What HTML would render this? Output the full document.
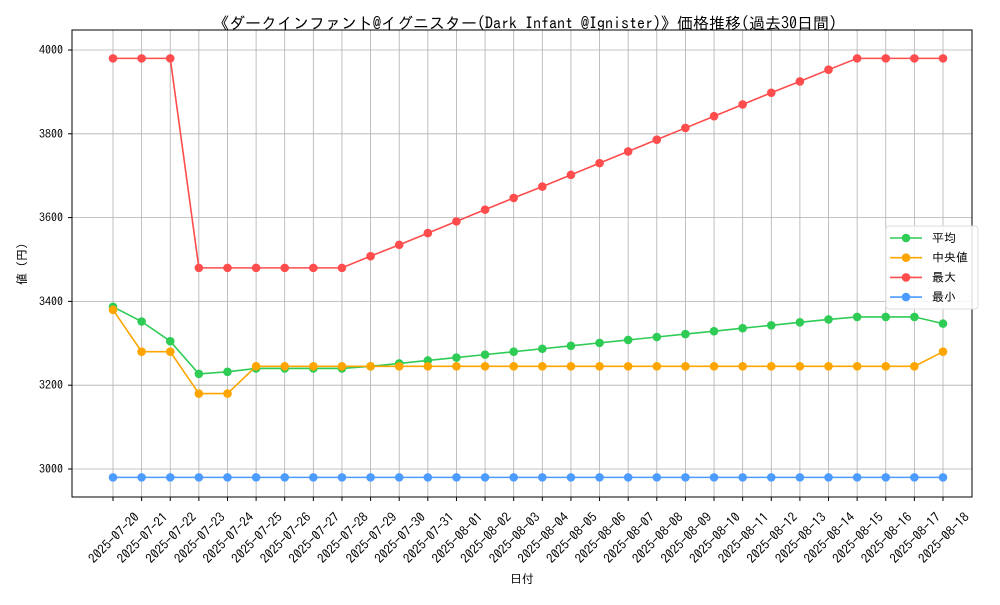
<!DOCTYPE html>
<html><head><meta charset="utf-8">
<style>
html,body{margin:0;padding:0;background:#fff;}
svg text{font-family:"IPAGothic","Liberation Sans","Noto Sans CJK JP",sans-serif;}
</style></head>
<body>
<svg id="chart" width="1000" height="600" viewBox="0 0 1000 600" xmlns="http://www.w3.org/2000/svg">
<rect width="1000" height="600" fill="#fff"/>
<text x="525" y="29" font-size="16" text-anchor="middle">《ダークインファント@イグニスター(Dark Infant @Ignister)》価格推移(過去30日間)</text>
<g id="grid"></g>
<g id="series"></g>
<rect x="72" y="30" width="900" height="467" fill="none" stroke="#000" stroke-width="1"/>
<g id="ticks"></g>
<text x="522" y="583" font-size="12" text-anchor="middle">日付</text>
<text x="0" y="0" font-size="12" text-anchor="middle" transform="translate(26,264) rotate(-90)">値 (円)</text>
<g>
<rect x="886" y="226" width="92" height="83" rx="3" fill="#fff" fill-opacity="0.85" stroke="#ddd"/>
<g id="legend-items"></g>
</g>
</svg>
<script>
const dates = ["2025-07-20","2025-07-21","2025-07-22","2025-07-23","2025-07-24","2025-07-25","2025-07-26","2025-07-27","2025-07-28","2025-07-29","2025-07-30","2025-07-31","2025-08-01","2025-08-02","2025-08-03","2025-08-04","2025-08-05","2025-08-06","2025-08-07","2025-08-08","2025-08-09","2025-08-10","2025-08-11","2025-08-12","2025-08-13","2025-08-14","2025-08-15","2025-08-16","2025-08-17","2025-08-18"];
const avgValues = [3387,3352,3305,3227,3232,3240,3240,3240,3240,3245,3252,3259,3266,3273,3280,3287,3294,3301,3308,3315,3322,3329,3336,3343,3350,3357,3363,3363,3363,3347];
const medianValues = [3380,3280,3280,3180,3180,3245,3245,3245,3245,3245,3245,3245,3245,3245,3245,3245,3245,3245,3245,3245,3245,3245,3245,3245,3245,3245,3245,3245,3245,3280];
const maxValues = [3980,3980,3980,3480,3480,3480,3480,3480,3480,3508,3535,3563,3591,3619,3647,3674,3702,3730,3758,3786,3814,3842,3870,3898,3925,3953,3980,3980,3980,3980];
const minValues = [2980,2980,2980,2980,2980,2980,2980,2980,2980,2980,2980,2980,2980,2980,2980,2980,2980,2980,2980,2980,2980,2980,2980,2980,2980,2980,2980,2980,2980,2980];
const yTicks = [3000,3200,3400,3600,3800,4000];
const seriesNames = ["平均","中央値","最大","最小"];

const NS="http://www.w3.org/2000/svg";
const X0=113, X1=943, Y0=469, Y1=50;
function xPos(i){return X0+(X1-X0)*i/(dates.length-1);}
function yPos(v){return Y0+(Y1-Y0)*(v-3000)/1000;}
function mk(tag,attrs,parent){const e=document.createElementNS(NS,tag);for(const k in attrs)e.setAttribute(k,attrs[k]);parent.appendChild(e);return e;}
const grid=document.getElementById('grid'), ticks=document.getElementById('ticks'), ser=document.getElementById('series');
dates.forEach((d,i)=>{
  const x=xPos(i);
  const g=mk('line',{x1:x,x2:x,y1:30,y2:497,stroke:'#b0b0b0','stroke-width':0.8},grid);
  
  
  const t=mk('line',{x1:x,x2:x,y1:497,y2:501,stroke:'#000'},ticks);
  
  
  const lb=mk('text',{'font-size':13,'text-anchor':'end',transform:`translate(${x+27},${518}) rotate(-45)`},ticks);
  lb.textContent=d;
  
  
});
yTicks.forEach(v=>{
  const y=yPos(v);
  const g=mk('line',{x1:72,x2:972,y1:y,y2:y,stroke:'#b0b0b0','stroke-width':0.8},grid);
  
  
  const t=mk('line',{x1:68,x2:72,y1:y,y2:y,stroke:'#000'},ticks);
  
  
  const lb=mk('text',{x:63,y:y+4,'font-size':12,'text-anchor':'end'},ticks);
  lb.textContent=v;
  
  
});
const allSeries=[avgValues,medianValues,maxValues,minValues];
const colors=["#2ecc55","#ffa500","#ff4c4c","#4c9bff"];
const keys=["avg","median","max","min"];
allSeries.forEach((vals,s)=>{
  const pts=vals.map((v,i)=>xPos(i)+','+yPos(v)).join(' ');
  const pl=mk('polyline',{points:pts,fill:'none',stroke:colors[s],'stroke-width':1.6},ser);
  
  
  vals.forEach((v,i)=>{
    const c=mk('circle',{cx:xPos(i),cy:yPos(v),r:4.3,fill:colors[s]},ser);
    
    
  });
});
const li=document.getElementById('legend-items');
seriesNames.forEach((n,s)=>{
  const y=238+s*19.7;
  const l=mk('line',{x1:890,x2:922,y1:y,y2:y,stroke:colors[s],'stroke-width':1.6},li);
  
  
  const c=mk('circle',{cx:906,cy:y,r:4.3,fill:colors[s]},li);
  
  
  const t=mk('text',{x:932,y:y+4,'font-size':12},li);
  t.textContent=n;
  
  
});
</script>
</body></html>
